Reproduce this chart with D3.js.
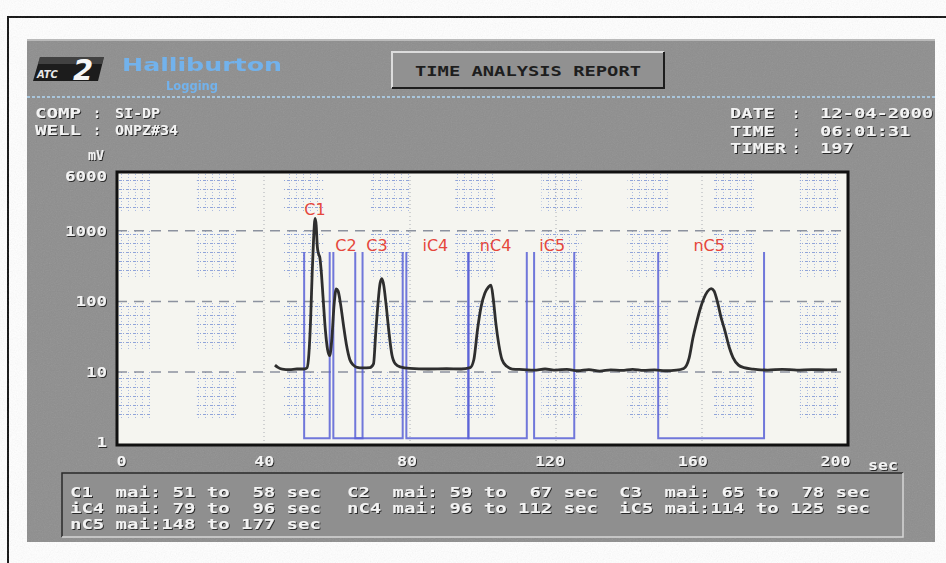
<!DOCTYPE html>
<html>
<head>
<meta charset="utf-8">
<script src="https://cdn.jsdelivr.net/npm/d3@7"></script>
<style>
  html, body { margin: 0; padding: 0; background: #fff; }
  svg { display: block; }
  text { white-space: pre; }
</style>
</head>
<body>
<div id="chart"></div>
<script>
// integration windows (sec), as printed in the table under the plot
const peakNames = ["C1", "C2", "C3", "iC4", "nC4", "iC5", "nC5"];
const winStart  = [51, 59, 65, 79, 96, 114, 148];
const winEnd    = [58, 67, 78, 96, 112, 125, 177];

// chromatogram trace: time (sec) and signal (mV)
const traceSec = [43, 43.8, 45, 47, 49, 51, 51.8, 52.3, 52.8, 53.2, 53.6, 54.0, 54.3, 54.6, 54.9, 55.3,
  55.7, 56.2, 56.8, 57.4, 58.0, 58.6, 59.2, 59.8, 60.3, 61.0, 61.8, 62.6, 63.5, 64.5, 65.5, 67, 69,
  70, 70.6, 71.2, 71.8, 72.3, 72.8, 73.4, 74.2, 75.0, 76.0, 77.3, 80, 85, 90, 94, 96.5, 97.5, 98.5,
  99.5, 100.5, 101.5, 102.2, 102.8, 103.5, 104.3, 105.2, 106.5, 108, 111, 114, 117, 120, 123, 126,
  129, 132, 135, 138, 141, 144, 147, 150, 153, 155, 156.5, 157.5, 158.5, 159.5, 160.5, 161.5, 162.5,
  163.3, 164.2, 165.2, 166.3, 167.5, 168.5, 170, 171.5, 174, 178, 182, 186, 190, 194, 197];
const traceMv = [12.5, 11.6, 11.0, 10.8, 11.0, 11.0, 11.5, 18, 60, 250, 800, 1500, 1200, 600, 480, 420,
  260, 110, 40, 21, 17, 30, 90, 150, 140, 90, 45, 24, 15, 12.5, 11.6, 11.4, 11.5,
  13, 35, 90, 180, 210, 170, 95, 38, 18, 13, 11.8, 11.2, 11.0, 11.1, 11.0, 11.5, 15, 40,
  85, 130, 160, 170, 110, 50, 25, 15, 12, 11, 10.8, 10.6, 11.0, 10.6, 10.9, 10.4,
  10.8, 10.3, 10.7, 10.5, 10.9, 10.5, 10.7, 10.4, 10.6, 11.2, 16, 30, 50, 78, 110, 138, 152,
  140, 100, 60, 38, 22, 16, 12.5, 11.5, 11, 10.6, 10.9, 10.6, 10.8, 10.7, 10.8];

const xTicks = [0, 40, 80, 120, 160, 200];
const yTicks = [1, 10, 100, 1000, 6000];

const headerLeft  = [["COMP", "SI-DP"], ["WELL", "ONPZ#34"]];
const headerRight = [["DATE", "12-04-2000"], ["TIME", "06:01:31"], ["TIMER", "197"]];

const W = 946, H = 563;
const plot = { left: 117, right: 848, top: 172, bottom: 445 };

const x = d3.scaleLinear().domain([0, 200]).range([118, 848]);
// the printed tick numbers sit slightly left of the true time grid
const xTick = d3.scaleLinear().domain([0, 200]).range([121, 835]);
const y = d3.scaleLog().domain([1, 6600]).range([442.5, 173]);

const svg = d3.select("#chart").append("svg")
  .attr("width", W).attr("height", H);

const defs = svg.append("defs");
const sh = defs.append("filter").attr("id", "shadow")
  .attr("x", "-10%").attr("y", "-30%").attr("width", "130%").attr("height", "170%");
sh.append("feDropShadow").attr("dx", 1).attr("dy", 1).attr("stdDeviation", 0.5)
  .attr("flood-color", "#1e1e1e").attr("flood-opacity", 0.9);

const nz = defs.append("filter").attr("id", "noise");
nz.append("feTurbulence").attr("type", "fractalNoise").attr("baseFrequency", 0.85)
  .attr("numOctaves", 2).attr("stitchTiles", "stitch");
nz.append("feColorMatrix").attr("type", "saturate").attr("values", 0);

const soft = defs.append("filter").attr("id", "soft");
soft.append("feGaussianBlur").attr("stdDeviation", 0.5);

const dots = defs.append("pattern").attr("id", "dots")
  .attr("patternUnits", "userSpaceOnUse").attr("width", 7).attr("height", 9);
dots.append("rect").attr("x", 0).attr("y", 0).attr("width", 3).attr("height", 1).attr("fill", "#6f89d2");
dots.append("rect").attr("x", 4).attr("y", 0).attr("width", 1).attr("height", 1).attr("fill", "#6f89d2");
dots.append("rect").attr("x", 2).attr("y", 3).attr("width", 1).attr("height", 1).attr("fill", "#93a8de");
dots.append("rect").attr("x", 2).attr("y", 6).attr("width", 1).attr("height", 1).attr("fill", "#93a8de");

// outer page frame
svg.append("path").attr("d", `M8,${H} V17 H${W}`)
  .attr("fill", "none").attr("stroke", "#111").attr("stroke-width", 2);

// grey screen panel
svg.append("rect").attr("x", 27).attr("y", 39).attr("width", 908).attr("height", 503)
  .attr("fill", "#8e8e8e");
svg.append("rect").attr("x", 27).attr("y", 39).attr("width", 908).attr("height", 503)
  .attr("filter", "url(#noise)").attr("opacity", 0.14);
svg.append("line").attr("x1", 27).attr("x2", 935).attr("y1", 40).attr("y2", 40)
  .attr("stroke", "#c9c9c9").attr("stroke-width", 1.5);

function etched(g, px, py, str, o) {
  o = o || {};
  const t = g.append("text")
    .attr("x", px).attr("y", py)
    .attr("text-anchor", o.anchor || "start")
    .attr("font-family", "'DejaVu Sans Mono', monospace")
    .attr("font-weight", "bold")
    .attr("font-size", o.size || 14)
    .attr("fill", o.fill || "#f3f3f3")
    .attr("filter", o.noShadow ? null : "url(#shadow)")
    .text(str);
  if (o.cw) t.attr("textLength", str.length * o.cw).attr("lengthAdjust", "spacingAndGlyphs");
  return t;
}

// logo
const logo = svg.append("g");
logo.append("path").attr("d", "M40,57 H104 L98,81 H33 Z").attr("fill", "#1c1c1c");
logo.append("path").attr("d", "M40,57 H104 L102,64 H38 Z").attr("fill", "#5a5a5a").attr("opacity", 0.6);
logo.append("text").attr("x", 37).attr("y", 78).attr("font-family", "'DejaVu Sans'")
  .attr("font-style", "italic").attr("font-weight", "bold").attr("font-size", 10)
  .attr("fill", "#e8e8e8").text("ATC");
logo.append("text").attr("x", 73).attr("y", 80).attr("font-family", "'DejaVu Sans'")
  .attr("font-style", "italic").attr("font-weight", "bold").attr("font-size", 29)
  .attr("fill", "#f6f6f6").text("2");
svg.append("text").attr("x", 122).attr("y", 71).attr("font-family", "'DejaVu Sans'")
  .attr("font-weight", "bold").attr("font-size", 17).attr("fill", "#72b2ec")
  .attr("textLength", 160).attr("lengthAdjust", "spacingAndGlyphs").attr("filter", "url(#soft)")
  .text("Halliburton");
svg.append("text").attr("x", 166).attr("y", 90).attr("font-family", "'DejaVu Sans'")
  .attr("font-weight", "bold").attr("font-size", 12).attr("fill", "#72b2ec")
  .attr("textLength", 52).attr("lengthAdjust", "spacingAndGlyphs").attr("filter", "url(#soft)")
  .text("Logging");

// report title box
const tb = svg.append("g");
tb.append("rect").attr("x", 392).attr("y", 52).attr("width", 272).attr("height", 36)
  .attr("fill", "#919191");
tb.append("path").attr("d", "M392,88 V52 H664").attr("fill", "none").attr("stroke", "#dcdcdc").attr("stroke-width", 2);
tb.append("path").attr("d", "M664,52 V88 H392").attr("fill", "none").attr("stroke", "#1d1d1d").attr("stroke-width", 2);
etched(tb, 528, 76, "TIME ANALYSIS REPORT", { anchor: "middle", fill: "#1e1e1e", cw: 11.3, noShadow: true });

// dotted divider
svg.append("line").attr("x1", 27).attr("x2", 935).attr("y1", 97).attr("y2", 97)
  .attr("stroke", "#a9c6dc").attr("stroke-width", 2).attr("stroke-dasharray", "3,2");

const hdr = svg.append("g");
headerLeft.forEach((r, i) => {
  const by = 118 + i * 17;
  etched(hdr, 35, by, r[0], { cw: 11.5 });
  etched(hdr, 93, by, ":", { cw: 8 });
  etched(hdr, 115, by, r[1], { cw: 9 });
});
headerRight.forEach((r, i) => {
  const by = 118 + i * 17.5;
  etched(hdr, 730, by, r[0], { cw: 11.2 });
  etched(hdr, 792, by, ":", { cw: 8 });
  etched(hdr, 820, by, r[1], { cw: 11.3 });
});
etched(hdr, 88, 160, "mV", { cw: 8 });

// plot area
svg.append("rect").attr("x", plot.left).attr("y", plot.top)
  .attr("width", plot.right - plot.left).attr("height", plot.bottom - plot.top)
  .attr("fill", "#f5f5f0");

// faint ghost print texture behind the trace
const tex = svg.append("g").attr("opacity", 0.75);
const bands = [[6600, 1800], [1000, 210], [100, 21], [10, 2.1]];
for (let c = 3.5; c < 200; c += 23.6) {
  bands.forEach(b => {
    tex.append("rect")
      .attr("x", x(Math.max(0, c - 5.5))).attr("y", y(b[0]))
      .attr("width", x(Math.min(200, c + 5.5)) - x(Math.max(0, c - 5.5)))
      .attr("height", y(b[1]) - y(b[0]))
      .attr("fill", "url(#dots)");
  });
}

// grid
const grid = svg.append("g");
grid.selectAll("line.h").data([10, 100, 1000]).join("line")
  .attr("x1", plot.left).attr("x2", plot.right)
  .attr("y1", d => y(d)).attr("y2", d => y(d))
  .attr("stroke", "#6a7184").attr("stroke-width", 1.5)
  .attr("stroke-dasharray", "10,7").attr("opacity", 0.75);
grid.selectAll("line.v").data(xTicks.slice(1, -1)).join("line")
  .attr("x1", d => x(d)).attr("x2", d => x(d))
  .attr("y1", plot.top).attr("y2", plot.bottom)
  .attr("stroke", "#8a8f9a").attr("stroke-width", 1)
  .attr("stroke-dasharray", "1,3").attr("opacity", 0.7);

// integration windows
const wins = peakNames.map((n, i) => ({ name: n, s: winStart[i], e: winEnd[i] }));
svg.append("g").selectAll("path").data(wins).join("path")
  .attr("d", d => `M${x(d.s)},${y(500)} V${y(1.15)} H${x(d.e)} V${y(500)}`)
  .attr("fill", "none").attr("stroke", "#5860d6").attr("stroke-width", 2)
  .attr("opacity", 0.85);

// trace
const pts = traceSec.map((t, i) => [t, traceMv[i]]);
svg.append("path").datum(pts)
  .attr("d", d3.line().x(d => x(d[0])).y(d => y(d[1])).curve(d3.curveMonotoneX))
  .attr("fill", "none").attr("stroke", "#2f2f2f").attr("stroke-width", 2.8)
  .attr("stroke-linejoin", "round").attr("filter", "url(#soft)");

// peak labels
svg.append("g").selectAll("text").data(wins).join("text")
  .attr("x", d => x((d.s + d.e) / 2) - 2)
  .attr("y", d => {
    const top = d3.max(pts.filter(p => p[0] >= d.s && p[0] <= d.e), p => p[1]);
    return Math.min(y(top) - 3, 251);
  })
  .attr("text-anchor", "middle")
  .attr("font-family", "'DejaVu Sans', sans-serif").attr("font-size", 16)
  .attr("fill", "#e5473c")
  .text(d => d.name);

// plot frame
svg.append("rect").attr("x", plot.left).attr("y", plot.top)
  .attr("width", plot.right - plot.left).attr("height", plot.bottom - plot.top)
  .attr("fill", "none").attr("stroke", "#111").attr("stroke-width", 3);

// axes
const xa = svg.append("g").attr("transform", "translate(0,450)")
  .call(d3.axisBottom(xTick).tickValues(xTicks).tickSize(0).tickPadding(6).tickFormat(d3.format("d")));
xa.select(".domain").remove();
xa.selectAll("text").attr("font-family", "'DejaVu Sans Mono', monospace").attr("font-weight", "bold")
  .attr("font-size", 14).attr("fill", "#f3f3f3").attr("filter", "url(#shadow)")
  .attr("textLength", d => String(d).length * 10).attr("lengthAdjust", "spacingAndGlyphs");
etched(svg, 868, 470, "sec", { cw: 10 });

const ya = svg.append("g").attr("transform", `translate(${plot.left},0)`)
  .call(d3.axisLeft(y).tickValues(yTicks).tickSize(0).tickPadding(10).tickFormat(d3.format("d")));
ya.select(".domain").remove();
ya.selectAll("text").attr("font-family", "'DejaVu Sans Mono', monospace").attr("font-weight", "bold")
  .attr("font-size", 14).attr("fill", "#f3f3f3").attr("filter", "url(#shadow)")
  .attr("textLength", d => String(d).length * 10.5).attr("lengthAdjust", "spacingAndGlyphs");

// window table
const tab = svg.append("g");
tab.append("rect").attr("x", 62).attr("y", 473).attr("width", 841).attr("height", 64).attr("fill", "#8f8f8f");
tab.append("path").attr("d", "M62,537 V473 H903").attr("fill", "none").attr("stroke", "#2a2a2a").attr("stroke-width", 1.5);
tab.append("path").attr("d", "M903,473 V537 H62").attr("fill", "none").attr("stroke", "#d6d6d6").attr("stroke-width", 1.5);
const cells = wins.map(d => d.name.padEnd(3) + " mai:" + String(d.s).padStart(3) + " to " + String(d.e).padStart(3) + " sec");
const colX = [70, 347, 619];
cells.forEach((str, i) => {
  etched(tab, colX[i % 3], 497 + Math.floor(i / 3) * 16, str, { cw: 11.4 });
});
</script>
</body>
</html>
